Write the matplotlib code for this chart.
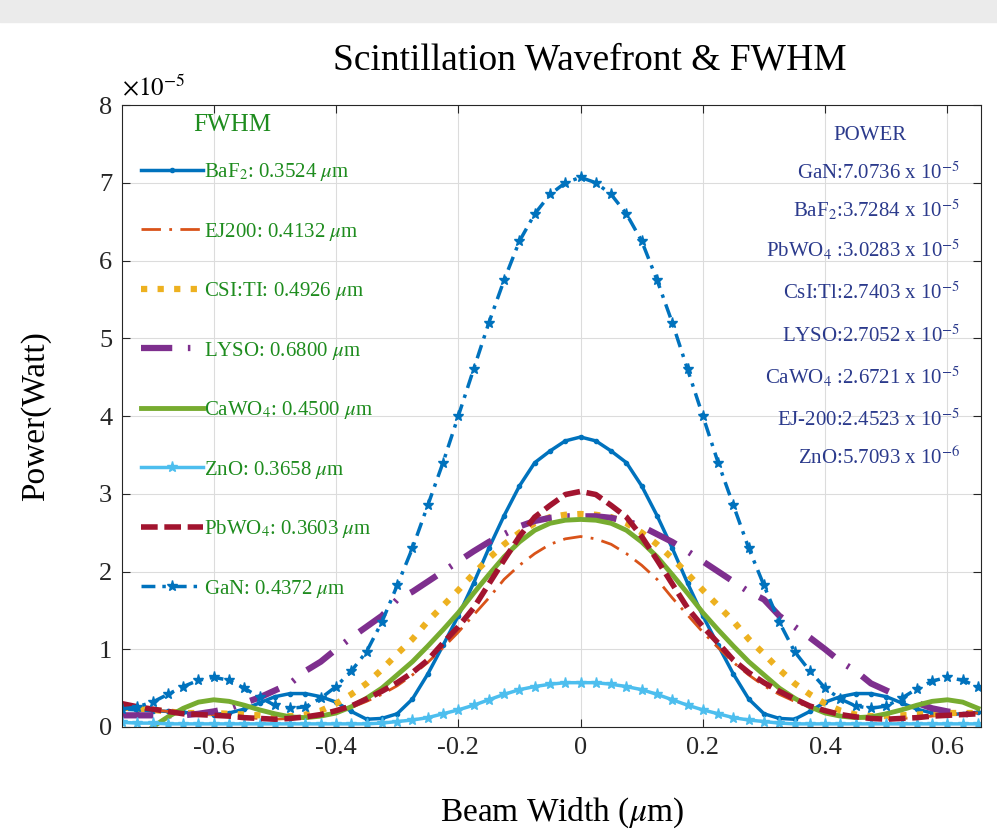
import numpy as np
import matplotlib
matplotlib.use('Agg')
import matplotlib.pyplot as plt
from matplotlib.patches import Rectangle

plt.rcParams['font.family'] = ['Liberation Serif', 'DejaVu Serif']
plt.rcParams['mathtext.fontset'] = 'stix'
plt.rcParams['axes.unicode_minus'] = False

# beam width samples (um), read every 0.025
x = np.round(np.arange(-0.75, 0.651, 0.025), 3)

# power in units of 1e-5 W
baf2 = [0.23, 0.22, 0.21, 0.20, 0.19, 0.17, 0.16, 0.18, 0.23, 0.31, 0.39, 0.43, 0.43, 0.39, 0.32, 0.20, 0.10, 0.11, 0.17,
        0.36, 0.68, 1.05, 1.43, 1.85, 2.30, 2.72, 3.10, 3.40, 3.55, 3.68, 3.73,
        3.68, 3.55, 3.40, 3.10, 2.72, 2.30, 1.85, 1.43, 1.05, 0.68, 0.36, 0.17, 0.11, 0.10, 0.20, 0.32, 0.39, 0.43,
        0.43, 0.39, 0.31, 0.23, 0.18, 0.16, 0.17, 0.19]
ej200 = [0.28, 0.25, 0.22, 0.20, 0.18, 0.17, 0.16, 0.14, 0.12, 0.11, 0.10, 0.11, 0.12, 0.15, 0.19, 0.25, 0.33, 0.42, 0.53,
         0.67, 0.83, 1.02, 1.22, 1.44, 1.66, 1.90, 2.08, 2.23, 2.35, 2.42, 2.45,
         2.42, 2.35, 2.23, 2.08, 1.90, 1.66, 1.44, 1.22, 1.02, 0.83, 0.67, 0.53, 0.42, 0.33, 0.25, 0.19, 0.15, 0.12,
         0.11, 0.10, 0.11, 0.12, 0.14, 0.16, 0.17, 0.18]
csitl = [0.25, 0.24, 0.22, 0.20, 0.18, 0.18, 0.18, 0.17, 0.16, 0.15, 0.14, 0.14, 0.16, 0.21, 0.30, 0.42, 0.56, 0.74, 0.94,
         1.13, 1.36, 1.56, 1.76, 1.97, 2.17, 2.35, 2.50, 2.62, 2.70, 2.73, 2.74,
         2.73, 2.70, 2.62, 2.50, 2.35, 2.17, 1.97, 1.76, 1.56, 1.36, 1.13, 0.94, 0.74, 0.56, 0.42, 0.30, 0.21, 0.16,
         0.14, 0.14, 0.15, 0.16, 0.17, 0.18, 0.18, 0.18]
lyso = [0.15, 0.15, 0.15, 0.15, 0.15, 0.17, 0.20, 0.24, 0.31, 0.38, 0.47, 0.56, 0.72, 0.84, 1.00, 1.15, 1.29, 1.43, 1.64,
        1.74, 1.87, 2.00, 2.13, 2.26, 2.38, 2.48, 2.58, 2.65, 2.69, 2.71, 2.71,
        2.71, 2.69, 2.65, 2.58, 2.48, 2.38, 2.26, 2.13, 2.00, 1.87, 1.74, 1.64, 1.43, 1.29, 1.15, 1.00, 0.84, 0.72,
        0.56, 0.47, 0.38, 0.31, 0.24, 0.20, 0.17, 0.15]
cawo4 = [np.nan, np.nan, 0.00, 0.13, 0.24, 0.32, 0.35, 0.33, 0.28, 0.22, 0.17, 0.13, 0.12, 0.14, 0.18, 0.26, 0.37, 0.50, 0.67,
         0.84, 1.04, 1.25, 1.47, 1.72, 1.96, 2.19, 2.38, 2.53, 2.62, 2.66, 2.67,
         2.66, 2.62, 2.53, 2.38, 2.19, 1.96, 1.72, 1.47, 1.25, 1.04, 0.84, 0.67, 0.50, 0.37, 0.26, 0.18, 0.14, 0.12,
         0.13, 0.17, 0.22, 0.28, 0.33, 0.35, 0.32, 0.24]
zno = [0.06, 0.05, 0.05, 0.04, 0.04, 0.04, 0.04, 0.04, 0.04, 0.04, 0.04, 0.04, 0.04, 0.04, 0.04, 0.04, 0.04, 0.05, 0.07,
       0.09, 0.12, 0.17, 0.22, 0.28, 0.35, 0.42, 0.48, 0.52, 0.55, 0.57, 0.57,
       0.57, 0.55, 0.52, 0.48, 0.42, 0.35, 0.28, 0.22, 0.17, 0.12, 0.09, 0.07, 0.05, 0.04, 0.04, 0.04, 0.04, 0.04,
       0.04, 0.04, 0.04, 0.04, 0.04, 0.04, 0.04, 0.04]
pbwo4 = [0.30, 0.26, 0.23, 0.20, 0.17, 0.16, 0.15, 0.14, 0.12, 0.11, 0.10, 0.11, 0.13, 0.16, 0.21, 0.27, 0.36, 0.46, 0.57,
         0.70, 0.86, 1.08, 1.29, 1.53, 1.84, 2.15, 2.45, 2.70, 2.85, 2.99, 3.03,
         2.99, 2.85, 2.70, 2.45, 2.15, 1.84, 1.53, 1.29, 1.08, 0.86, 0.70, 0.57, 0.46, 0.36, 0.27, 0.21, 0.16, 0.13,
         0.11, 0.10, 0.11, 0.12, 0.14, 0.15, 0.16, 0.17]
gan = [0.23, 0.26, 0.32, 0.42, 0.52, 0.60, 0.64, 0.60, 0.50, 0.38, 0.28, 0.24, 0.26, 0.37, 0.52, 0.72, 0.97, 1.35, 1.82,
       2.30, 2.85, 3.40, 4.00, 4.60, 5.20, 5.75, 6.25, 6.60, 6.85, 7.00, 7.07,
       7.00, 6.85, 6.60, 6.25, 5.75, 5.20, 4.60, 4.00, 3.40, 2.85, 2.30, 1.82, 1.35, 0.97, 0.72, 0.50, 0.36, 0.27,
       0.24, 0.27, 0.37, 0.49, 0.59, 0.64, 0.60, 0.52]

fwhm_labels = [r'BaF$_2$: 0.3524 $\mu$m', r'EJ200: 0.4132 $\mu$m', r'CSI:TI: 0.4926 $\mu$m',
               r'LYSO: 0.6800 $\mu$m', r'CaWO$_4$: 0.4500 $\mu$m', r'ZnO: 0.3658 $\mu$m',
               r'PbWO$_4$: 0.3603 $\mu$m', r'GaN: 0.4372 $\mu$m']
power_lines = [r'GaN:7.0736 x 10$^{-5}$', r'BaF$_2$:3.7284 x 10$^{-5}$', r'PbWO$_4$ :3.0283 x 10$^{-5}$',
               r'CsI:Tl:2.7403 x 10$^{-5}$', r'LYSO:2.7052 x 10$^{-5}$', r'CaWO$_4$ :2.6721 x 10$^{-5}$',
               r'EJ-200:2.4523 x 10$^{-5}$', r'ZnO:5.7093 x 10$^{-6}$']

H = 839
fig = plt.figure(figsize=(9.97, 8.39), dpi=100)
fig.patches.append(Rectangle((0, 1 - 22/H), 1, 22/H, transform=fig.transFigure,
                             color='#ebebeb', zorder=0))
ax = fig.add_axes([0.1224, 0.1335, 0.8616, 0.7413])

ax.plot(x, baf2, '-', color='#0072BD', lw=2.5, marker='.', ms=6, label=fwhm_labels[0])
ax.plot(x, ej200, color='#D95319', lw=2, dashes=(7, 3, 1, 3), label=fwhm_labels[1])
ax.plot(x, csitl, ':', color='#EDB120', lw=4.5, label=fwhm_labels[2])
ax.plot(x, lyso, color='#7E2F8E', lw=4.5, dashes=(5, 2.5, 0.4, 2.5), label=fwhm_labels[3])
ax.plot(x, cawo4, '-', color='#77AC30', lw=3.5, label=fwhm_labels[4])
ax.plot(x, zno, '-', color='#4DBEEE', lw=2.5, marker='*', ms=8, label=fwhm_labels[5])
ax.plot(x, pbwo4, '--', color='#A2142F', lw=4, dashes=(3, 1.2), label=fwhm_labels[6])
ax.plot(x, gan, color='#0072BD', lw=2.5, dashes=(4, 2, 1, 2), marker='*', ms=8, label=fwhm_labels[7])

ax.set_xlim(-0.75, 0.655)
ax.set_ylim(0, 8)
ax.set_xticks([-0.6, -0.4, -0.2, 0, 0.2, 0.4, 0.6])
ax.set_xticklabels(['-0.6', '-0.4', '-0.2', '0', '0.2', '0.4', '0.6'])
ax.set_yticks(range(9))
ax.tick_params(direction='in', top=True, right=True, length=6, labelsize=19, colors='#262626', pad=7)
ax.grid(True, color='#dcdcdc', lw=0.8)
for s in ax.spines.values():
    s.set_color('#262626')

ax.text(0.0, 1.008, r'$\times 10^{-5}$', transform=ax.transAxes, fontsize=18, va='bottom', ha='left')
ax.set_xlabel(r'Beam Width ($\mu$m)', fontsize=24, va='top')
ax.xaxis.set_label_coords(0.512, -0.11)
ax.set_ylabel('Power(Watt)', fontsize=24)
ax.yaxis.set_label_coords(-0.083, 0.5)
fig.text(590/997, 1 - 60/H, 'Scintillation Wavefront & FWHM', fontsize=27, ha='center', va='center')

ax.text(232, H - 125, 'FWHM', transform=None, fontsize=18, color='#1e8c1e', ha='center', va='center')

leg = ax.legend(loc='upper left', bbox_to_anchor=(0.0, 0.94), frameon=False, fontsize=15,
                handlelength=3.0, handletextpad=0.05, labelspacing=1.8, numpoints=1,
                labelcolor='#1e8c1e')

ax.text(870, H - 136, 'POWER', transform=None, fontsize=15, color='#2b3a8c', ha='center', va='center')
py = [173, 210, 250, 293, 336, 377, 420, 458]
for t, p in zip(power_lines, py):
    ax.text(960, H - p, t, transform=None, fontsize=15, color='#2b3a8c', ha='right', va='center')

fig.savefig('out.png', dpi=100)
